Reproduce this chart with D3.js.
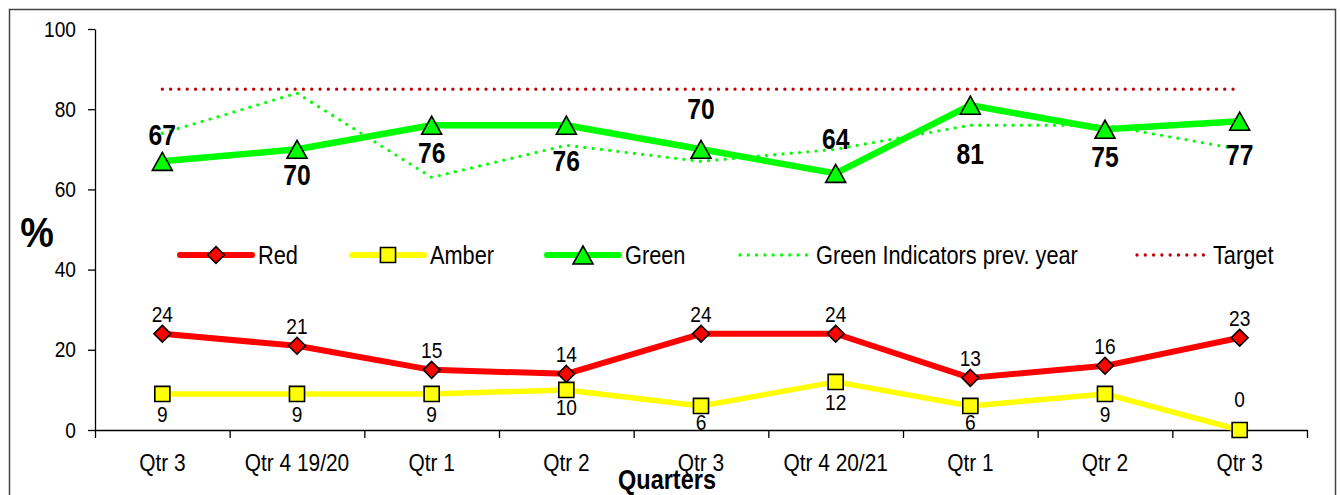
<!DOCTYPE html>
<html>
<head>
<meta charset="utf-8">
<script src="https://cdn.jsdelivr.net/npm/d3@7"></script>
<style>
  body { margin: 0; background: #fff; }
  svg { display: block; font-family: "Liberation Sans", Arial, sans-serif; }
</style>
</head>
<body>
<svg></svg>
<script>
var width = 1340, height = 495;

// data
var quarters = ["Qtr 3", "Qtr 4 19/20", "Qtr 1", "Qtr 2", "Qtr 3", "Qtr 4 20/21", "Qtr 1", "Qtr 2", "Qtr 3"];
var red = [24, 21, 15, 14, 24, 24, 13, 16, 23];
var amber = [9, 9, 9, 10, 6, 12, 6, 9, 0];
var green = [67, 70, 76, 76, 70, 64, 81, 75, 77];
var greenPrev = [74, 84, 63, 71, 67, 70, 76, 76, 70];
var target = [85, 85, 85, 85, 85, 85, 85, 85, 85];
var yTicks = [0, 20, 40, 60, 80, 100];

// label offsets (px from marker to baseline)
var greenLabelDy = [-16, 36, 38, 46, -30, -24, 59, 38, 44];
var amberLabelDy = [28, 28, 28, 25, 24, 28, 24, 28, -23];

var sx = 0.87; // text is drawn a little narrow, like the original

var svg = d3.select("svg")
	.attr("width", width)
	.attr("height", height);

svg.append("rect")
	.attr("x", 9.5).attr("y", 9.5)
	.attr("width", 1326).attr("height", 500)
	.attr("fill", "#fff")
	.attr("stroke", "#444")
	.attr("stroke-width", 1.5);

var x = d3.scaleBand()
	.domain(d3.range(quarters.length))
	.range([95, 1307])
	.paddingInner(0);

var xEdge = d3.scaleLinear()
	.domain([0, quarters.length])
	.range([95, 1307]);

var y = d3.scaleLinear()
	.domain([0, 100])
	.range([430, 29]);

function cx(i) { return x(i) + x.bandwidth() / 2; }

function narrow(sel) {
	sel.each(function() {
		var t = d3.select(this);
		var ox = +t.attr("x") || 0;
		t.attr("x", ox / sx).attr("transform", "scale(" + sx + ",1)");
	});
}

function label(g, tx, ty, str, size, bold, anchor, s) {
	g.append("text")
		.attr("transform", "translate(" + tx + "," + ty + ") scale(" + (s || sx) + ",1)")
		.attr("text-anchor", anchor || "middle")
		.attr("font-size", size)
		.attr("font-weight", bold ? "bold" : "normal")
		.attr("fill", "#000")
		.text(str);
}

// y axis
var yAxis = svg.append("g")
	.attr("transform", "translate(95,0)")
	.call(d3.axisLeft(y).tickValues(yTicks).tickSize(7).tickSizeOuter(0).tickPadding(12));
yAxis.selectAll("text").attr("font-size", 22).attr("fill", "#000").call(narrow);

// x axis: labels at band centres, ticks at band edges
var xAxis = svg.append("g")
	.attr("transform", "translate(0,430)")
	.call(d3.axisBottom(x).tickSize(0).tickPadding(24).tickFormat(function(i) { return quarters[i]; }));
xAxis.selectAll("text").attr("font-size", 24).attr("fill", "#000").call(narrow);
xAxis.select(".domain").remove();

svg.append("g")
	.attr("transform", "translate(0,430)")
	.call(d3.axisBottom(xEdge).tickValues(d3.range(quarters.length + 1)).tickSize(8).tickSizeOuter(0).tickFormat(""));

svg.selectAll(".domain, .tick line").attr("stroke", "#000").attr("stroke-width", 1.3);

// axis titles
label(svg, 37, 247, "%", 42, true, "middle", 0.9);
label(svg, 667, 489, "Quarters", 27, true, "middle");

var line = d3.line()
	.x(function(d, i) { return cx(i); })
	.y(function(d) { return y(d); });

function drawLine(vals, color, w, dotted) {
	var p = svg.append("path")
		.datum(vals)
		.attr("d", line)
		.attr("fill", "none")
		.attr("stroke", color)
		.attr("stroke-width", w)
		.attr("stroke-linejoin", "round");
	if (dotted) p.attr("stroke-dasharray", "0,8.3").attr("stroke-linecap", "round");
	else p.attr("stroke-linecap", "butt");
	return p;
}

var symDiamond = d3.symbol().type(d3.symbolDiamond2).size(180);
var symSquare = d3.symbol().type(d3.symbolSquare2).size(290);

function triPath() { return "M0,-9L10,9L-10,9Z"; }

function markers(vals, kind, fill) {
	svg.append("g").selectAll("path")
		.data(vals)
		.enter()
		.append("path")
		.attr("transform", function(d, i) {
			return "translate(" + cx(i) + "," + y(d) + ")";
		})
		.attr("d", kind === "tri" ? triPath() : (kind === "dia" ? symDiamond() : symSquare()))
		.attr("fill", fill)
		.attr("stroke", "#000")
		.attr("stroke-width", 1.6);
}

drawLine(red, "#ff0000", 6);
drawLine(amber, "#ffff00", 5.5);
drawLine(green, "#00ff00", 6.5);
drawLine(greenPrev, "#00ff00", 3.3, true);
markers(red, "dia", "#ff0000");
markers(amber, "sq", "#ffff00");
markers(green, "tri", "#00ff00");
drawLine(target, "#c00000", 3.3, true);

// value labels
var labels = svg.append("g");
red.forEach(function(d, i) { label(labels, cx(i), y(d) - 12, d, 22, false); });
amber.forEach(function(d, i) { label(labels, cx(i), y(d) + amberLabelDy[i], d, 22, false); });
green.forEach(function(d, i) { label(labels, cx(i), y(d) + greenLabelDy[i], d, 29, true, "middle", 0.85); });

// legend
var legend = [
	{ name: "Red", color: "#ff0000", kind: "dia", x: 180 },
	{ name: "Amber", color: "#ffff00", kind: "sq", x: 352 },
	{ name: "Green", color: "#00ff00", kind: "tri", x: 547 },
	{ name: "Green Indicators prev. year", color: "#00ff00", kind: "dot", x: 738 },
	{ name: "Target", color: "#c00000", kind: "dot", x: 1135 }
];
var ly = 255;
var lg = svg.append("g").selectAll("g")
	.data(legend)
	.enter()
	.append("g")
	.attr("transform", function(d) { return "translate(" + d.x + "," + ly + ")"; });

lg.append("line")
	.attr("x1", function(d) { return d.kind === "dot" ? 2 : 0; })
	.attr("x2", function(d) { return d.kind === "dot" ? 70 : 72; })
	.attr("stroke", function(d) { return d.color; })
	.attr("stroke-width", function(d) { return d.kind === "dot" ? 3.3 : 6; })
	.attr("stroke-linecap", "round")
	.attr("stroke-dasharray", function(d) { return d.kind === "dot" ? "0,8.3" : null; });

lg.filter(function(d) { return d.kind !== "dot"; })
	.append("path")
	.attr("transform", "translate(36,0)")
	.attr("d", function(d) { return d.kind === "tri" ? triPath() : (d.kind === "dia" ? symDiamond() : symSquare()); })
	.attr("fill", function(d) { return d.color; })
	.attr("stroke", "#000")
	.attr("stroke-width", 1.6);

lg.each(function(d) {
	label(d3.select(this), 78, 8.5, d.name, 25, false, "start");
});
</script>
</body>
</html>
